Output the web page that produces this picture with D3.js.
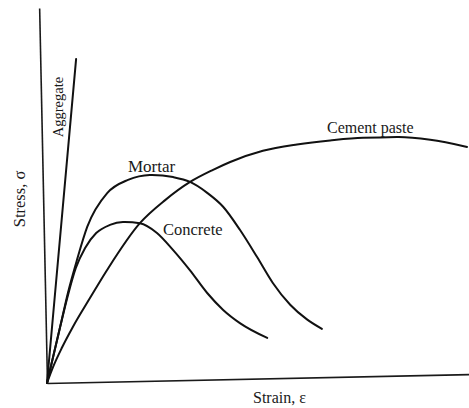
<!DOCTYPE html>
<html lang="en">
	<head>
		<meta charset="utf-8">
		<title>Stress-strain curves</title>
		<script type="text/javascript" src="https://d3js.org/d3.v7.min.js"></script>
		<style type="text/css">
			body { margin: 0; background: #fff; }
			text { font-family: "Liberation Serif", "DejaVu Serif", serif; fill: #1a1a1a; }
		</style>
	</head>
	<body>
		<script type="text/javascript">

			//Curves (strain and stress in arbitrary units)
			var aggregateStrain = [0, 0.85];
			var aggregateStress = [0, 8.62];

			var mortarStrain = [0, 0.34, 0.54, 0.77, 1.03, 1.52, 2.02, 2.54, 3.09, 3.49, 3.89, 4.26, 4.65, 5.04, 5.40, 5.80, 6.19, 6.54];
			var mortarStress = [0, 1.49, 2.39, 3.26, 4.14, 5.03, 5.37, 5.49, 5.42, 5.28, 4.98, 4.60, 3.97, 3.24, 2.54, 1.95, 1.55, 1.29];

			var concreteStrain = [0, 0.34, 0.54, 0.74, 0.97, 1.24, 1.57, 1.88, 2.28, 2.68, 3.05, 3.44, 3.84, 4.21, 4.60, 5.24];
			var concreteStress = [0, 1.49, 2.33, 3.05, 3.58, 3.97, 4.18, 4.25, 4.21, 3.94, 3.48, 2.93, 2.31, 1.85, 1.49, 1.08];

			var pasteStrain = [0, 0.15, 0.37, 0.64, 1.06, 1.48, 2.28, 2.89, 3.49, 4.04, 4.45, 5.23, 6.04, 6.83, 7.61, 8.41, 9.20, 10.07];
			var pasteStress = [0, 0.42, 0.93, 1.48, 2.24, 2.98, 4.21, 4.81, 5.28, 5.59, 5.79, 6.07, 6.22, 6.31, 6.36, 6.36, 6.27, 6.06];

			var curveNames = ["Aggregate", "Mortar", "Concrete", "Cement paste"];
			var xTitle = "Strain, \u03b5";
			var yTitle = "Stress, \u03c3";

			//Width and height
			var w = 469;
			var h = 408;

			var x = d3.scaleLinear().domain([0, 10]).range([47, 469]);
			var y = d3.scaleLinear().domain([0, 10]).range([383, 8]);

			var svg = d3.select("body")
						.append("svg")
						.attr("width", w)
						.attr("height", h);

			svg.append("rect")
			   .attr("width", w)
			   .attr("height", h)
			   .attr("fill", "#fff");

			//the scanned figure sits a little crooked
			var plot = svg.append("g")
						  .attr("transform", "rotate(-1.2," + x(0) + "," + y(0) + ")");

			var xAxis = d3.axisBottom(x).ticks(0).tickSizeOuter(0);
			var yAxis = d3.axisLeft(y).ticks(0).tickSizeOuter(0);

			plot.append("g")
				.attr("transform", "translate(0," + y(0) + ")")
				.call(xAxis);
			plot.append("g")
				.attr("transform", "translate(" + x(0) + ",0)")
				.call(yAxis);

			plot.selectAll(".domain")
				.attr("stroke", "#1a1a1a")
				.attr("stroke-width", 1.6);

			function pairs(xs, ys) {
				return xs.map(function (d, i) { return [d, ys[i]]; });
			}

			var series = [
				pairs(aggregateStrain, aggregateStress),
				pairs(mortarStrain, mortarStress),
				pairs(concreteStrain, concreteStress),
				pairs(pasteStrain, pasteStress)
			];

			var line = d3.line()
						 .x(function (d) { return x(d[0]); })
						 .y(function (d) { return y(d[1]); })
						 .curve(d3.curveMonotoneX);

			plot.selectAll("path.curve")
				.data(series)
				.enter()
				.append("path")
				.attr("class", "curve")
				.attr("d", line)
				.attr("fill", "none")
				.attr("stroke", "#111")
				.attr("stroke-width", 2)
				.attr("stroke-linecap", "round");

			//curve labels
			svg.append("text")
			   .attr("transform", "translate(63,107) rotate(-90)")
			   .attr("text-anchor", "middle")
			   .style("font-size", "14.5px")
			   .text(curveNames[0]);

			svg.append("text")
			   .attr("x", 128)
			   .attr("y", 172)
			   .style("font-size", "17px")
			   .text(curveNames[1]);

			svg.append("text")
			   .attr("x", 163)
			   .attr("y", 235)
			   .style("font-size", "16.5px")
			   .text(curveNames[2]);

			svg.append("text")
			   .attr("x", 327)
			   .attr("y", 133)
			   .style("font-size", "16px")
			   .text(curveNames[3]);

			//axis titles
			svg.append("text")
			   .attr("x", 253)
			   .attr("y", 403)
			   .style("font-size", "16px")
			   .text(xTitle);

			svg.append("text")
			   .attr("transform", "translate(25,199) rotate(-90)")
			   .attr("text-anchor", "middle")
			   .style("font-size", "16.5px")
			   .text(yTitle);

		</script>
	</body>
</html>
